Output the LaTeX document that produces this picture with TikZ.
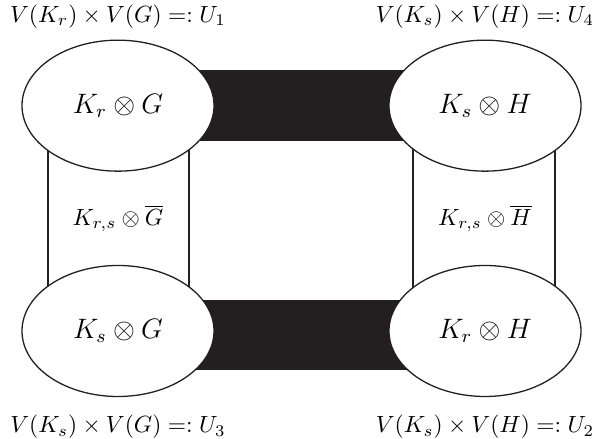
\documentclass[tikz,border=0pt]{standalone}
\usepackage{amsmath,amssymb}
\usetikzlibrary{calc,positioning,shapes.geometric,backgrounds}
\definecolor{barblack}{RGB}{35,31,32}

\begin{document}
\begin{tikzpicture}[
  part/.style={ellipse,draw=barblack,line width=0.55pt,fill=white,minimum width=2.88cm,minimum height=1.965cm,inner sep=0pt,font=\large},
  vlabel/.style={inner sep=0pt},
  link/.style={draw=barblack,line width=0.55pt}]
  \useasboundingbox (0,0) rectangle (8.88,6.585);
  \node[part] (tl) at (1.77,5.0) {$K_r \otimes G$};
  \node[part] (tr) at (7.275,5.0) {$K_s \otimes H$};
  \node[part] (bl) at (1.77,1.62) {$K_s \otimes G$};
  \node[part] (br) at (7.275,1.62) {$K_r \otimes H$};
  \node[vlabel,above=0.165cm of tl] {$V(K_r)\times V(G) =: U_1$};
  \node[vlabel,above=0.165cm of tr] {$V(K_s)\times V(H) =: U_4$};
  \node[vlabel,below=0.26cm of bl] {$V(K_s)\times V(G) =: U_3$};
  \node[vlabel,below=0.26cm of br] {$V(K_s)\times V(H) =: U_2$};
  \node (gbar) at ($(tl)!0.5!(bl)$) {$K_{r,s} \otimes \overline{G}$};
  \node (hbar) at ($(tr)!0.5!(br)$) {$K_{r,s} \otimes \overline{H}$};
  \begin{scope}[on background layer]
    \fill[barblack] ([yshift=0.53cm]tl.center) rectangle ([yshift=-0.53cm]tr.center);
    \fill[barblack] ([yshift=0.47cm]bl.center) rectangle ([yshift=-0.59cm]br.center);
    \draw[link] ([xshift=-1.05cm]tl.center) rectangle ([xshift=1.065cm]bl.center);
    \draw[link] ([xshift=-1.08cm]tr.center) rectangle ([xshift=1.05cm]br.center);
  \end{scope}
\end{tikzpicture}
\end{document}
